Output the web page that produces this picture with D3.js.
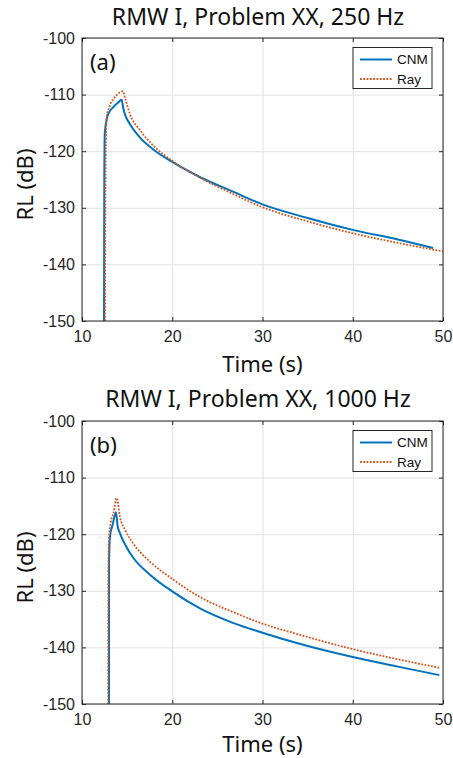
<!DOCTYPE html>
<html>
<head>
<meta charset="utf-8">
<script src="https://d3js.org/d3.v7.min.js"></script>
<style>
  body { margin: 0; background: #fff; }
</style>
</head>
<body>
<div id="chart"></div>
<script>
// time axis ticks
const xTicks = [10, 20, 30, 40, 50];
const yTicks = [-150, -140, -130, -120, -110, -100];

// (a) 250 Hz
const tCnmA = [12.44, 12.47, 12.5, 12.55, 12.92, 13.47, 14.0, 14.4, 14.55, 14.7, 15.3, 16.43, 17.9, 20, 23.1, 26.8, 30, 35, 40, 45, 48.9];
const cnmA  = [-150, -125, -118.5, -116.3, -113.4, -112.2, -111.4, -110.9, -112.2, -113.2, -115.2, -117.6, -119.7, -121.9, -124.6, -127.2, -129.4, -131.8, -133.9, -135.6, -137.1];
const tRayA = [12.55, 12.6, 12.66, 12.73, 13.1, 13.66, 14.2, 14.55, 14.75, 15.3, 16.43, 17.9, 20, 23.1, 26.8, 30, 35, 40, 45, 50];
const rayA  = [-150, -125, -117.5, -114, -111.9, -110.4, -109.6, -109.4, -110.5, -113.4, -116.3, -119.0, -121.7, -124.7, -127.6, -129.9, -132.4, -134.5, -136.2, -137.7];

// (b) 1000 Hz
const tCnmB = [12.99, 13.0, 13.1, 13.4, 13.77, 13.95, 14.2, 14.8, 15.7, 17.5, 20, 23.07, 26.8, 30, 34.2, 40, 45, 49.6];
const cnmB  = [-150, -125, -120.4, -118.3, -116.1, -118.6, -119.8, -121.9, -124.2, -127.1, -130.1, -133.1, -135.7, -137.4, -139.4, -141.7, -143.4, -144.9];
const tRayB = [12.9, 12.93, 13.0, 13.2, 13.5, 13.85, 14.2, 14.8, 15.7, 17.5, 20, 23.07, 26.8, 30, 34.2, 40, 45, 49.6];
const rayB  = [-150, -125, -120.5, -117.8, -116.2, -113.6, -116.9, -119.3, -121.7, -124.8, -127.9, -131.1, -133.8, -135.8, -137.8, -140.3, -142.1, -143.6];

const seriesNames = ["CNM", "Ray"];
const colors = {CNM: "#0072BD", Ray: "#D95319"};

const width = 453, height = 758;
const svg = d3.select("#chart").append("svg")
  .attr("width", width)
  .attr("height", height)
  .style("font-family", "'Liberation Sans', Arial, sans-serif");

svg.append("rect").attr("width", width).attr("height", height).attr("fill", "#fff");

const panels = [
  {title: "RMW I, Problem XX, 250 Hz", tag: "(a)", top: 38, bottom: 321, titleY: 25, xlabY: 371.5,
   cnm: tCnmA.map((t, i) => [t, cnmA[i]]), ray: tRayA.map((t, i) => [t, rayA[i]])},
  {title: "RMW I, Problem XX, 1000 Hz", tag: "(b)", top: 421, bottom: 704, titleY: 407, xlabY: 752,
   cnm: tCnmB.map((t, i) => [t, cnmB[i]]), ray: tRayB.map((t, i) => [t, rayB[i]])}
];

const left = 82, right = 443;
const sans = "'Noto Sans', 'Open Sans', sans-serif";

panels.forEach((p, k) => {
  const x = d3.scaleLinear().domain([10, 50]).range([left, right]);
  const y = d3.scaleLinear().domain([-150, -100]).range([p.bottom, p.top]);
  const h = p.bottom - p.top;
  const g = svg.append("g");

  // grid
  g.append("g")
    .attr("class", "grid")
    .attr("transform", `translate(0,${p.bottom})`)
    .call(d3.axisBottom(x).tickValues(xTicks).tickSize(-h).tickFormat(""));
  g.append("g")
    .attr("class", "grid")
    .attr("transform", `translate(${left},0)`)
    .call(d3.axisLeft(y).tickValues(yTicks).tickSize(-(right - left)).tickFormat(""));
  g.selectAll(".grid .domain").remove();
  g.selectAll(".grid line").attr("stroke", "#e2e2e2");

  // clip
  const clipId = "clip" + k;
  svg.append("clipPath").attr("id", clipId)
    .append("rect").attr("x", left).attr("y", p.top).attr("width", right - left).attr("height", h);

  const line = d3.line().x(d => x(d[0])).y(d => y(d[1])).curve(d3.curveMonotoneX);

  g.append("path")
    .datum(p.cnm)
    .attr("clip-path", `url(#${clipId})`)
    .attr("fill", "none")
    .attr("stroke", colors.CNM)
    .attr("stroke-width", 2)
    .attr("stroke-linejoin", "round")
    .attr("d", line);

  g.append("path")
    .datum(p.ray)
    .attr("clip-path", `url(#${clipId})`)
    .attr("fill", "none")
    .attr("stroke", colors.Ray)
    .attr("stroke-width", 1.8)
    .attr("stroke-dasharray", "1.8,1.5")
    .attr("d", line);

  // axes, ticks pointing in, plain hyphen minus like MATLAB
  const fmt = d => String(d);
  const axes = g.append("g").attr("class", "axes");
  const axX = axes.append("g")
    .attr("transform", `translate(0,${p.bottom})`)
    .call(d3.axisBottom(x).tickValues(xTicks).tickSizeInner(-4).tickSizeOuter(0).tickPadding(10).tickFormat(fmt));
  const axY = axes.append("g")
    .attr("transform", `translate(${left},0)`)
    .call(d3.axisLeft(y).tickValues(yTicks).tickSizeInner(-4).tickSizeOuter(0).tickPadding(7).tickFormat(fmt));
  axes.append("g")
    .attr("transform", `translate(0,${p.top})`)
    .call(d3.axisTop(x).tickValues(xTicks).tickSizeInner(-4).tickSizeOuter(0).tickFormat(""));
  axes.append("g")
    .attr("transform", `translate(${right},0)`)
    .call(d3.axisRight(y).tickValues(yTicks).tickSizeInner(-4).tickSizeOuter(0).tickFormat(""));
  axes.selectAll(".domain").remove();
  axes.selectAll(".tick line").attr("stroke", "#262626");
  [axX, axY].forEach(a => a.selectAll("text")
    .attr("fill", "#262626")
    .style("font-size", "16px")
    .style("font-family", "'Liberation Sans', Arial, sans-serif"));

  g.append("rect")
    .attr("x", left).attr("y", p.top)
    .attr("width", right - left).attr("height", h)
    .attr("fill", "none")
    .attr("stroke", "#262626")
    .attr("stroke-width", 1);

  // title and labels
  svg.append("text")
    .attr("x", 258).attr("y", p.titleY)
    .attr("text-anchor", "middle")
    .style("font-family", sans)
    .style("font-size", "23px")
    .attr("fill", "#111")
    .text(p.title);

  svg.append("text")
    .attr("x", (left + right) / 2).attr("y", p.xlabY)
    .attr("text-anchor", "middle")
    .style("font-family", sans)
    .style("font-size", "22px")
    .attr("fill", "#111")
    .text("Time (s)");

  svg.append("text")
    .attr("transform", `translate(33,${(p.top + p.bottom) / 2 + 5}) rotate(-90)`)
    .attr("text-anchor", "middle")
    .style("font-family", sans)
    .style("font-size", "22px")
    .attr("fill", "#111")
    .text("RL (dB)");

  svg.append("text")
    .attr("x", 90).attr("y", p.top + 32)
    .style("font-family", sans)
    .style("font-size", "22px")
    .attr("fill", "#111")
    .text(p.tag);

  // legend
  const lg = svg.append("g").attr("transform", `translate(353,${p.top + 9.5})`);
  lg.append("rect")
    .attr("width", 79).attr("height", 41)
    .attr("fill", "#fff")
    .attr("stroke", "#262626")
    .attr("stroke-width", 1);
  seriesNames.forEach((s, i) => {
    const yy = 12 + i * 19.5;
    lg.append("line")
      .attr("x1", 7).attr("x2", 39).attr("y1", yy).attr("y2", yy)
      .attr("stroke", colors[s])
      .attr("stroke-width", s === "CNM" ? 2 : 1.8)
      .attr("stroke-dasharray", s === "CNM" ? null : "1.8,1.5");
    lg.append("text")
      .attr("x", 44).attr("y", yy).attr("dy", "0.35em")
      .style("font-size", "13.5px")
      .attr("fill", "#111")
      .text(s);
  });
});
</script>
</body>
</html>
